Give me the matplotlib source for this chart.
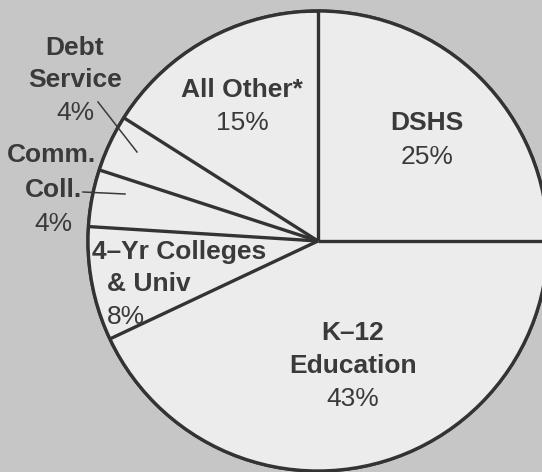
import numpy as np
import matplotlib.pyplot as plt
from matplotlib.patches import Circle

# budget shares (%), clockwise from 12 o'clock
labels = ['DSHS', 'K\u201312\nEducation', '4\u2013Yr Colleges\n& Univ', 'Comm.\nColl.', 'Debt\nService', 'All Other*']
shares = [25, 43, 8, 4, 4, 15]
pct_text = ['25%', '43%', '8%', '4%', '4%', '15%']

W, H = 542, 472
fig = plt.figure(figsize=(W / 100, H / 100), dpi=100)
fig.patch.set_facecolor('#c6c6c6')
ax = fig.add_axes([0, 0, 1, 1])
ax.set_facecolor('#c6c6c6')

cx, cy, r = 318, H - 241, 230
fill = '#ececec'
edge = '#333333'
lw = 2.4
# disk underneath so the rounding gap (shares sum to 99) is filled
ax.add_patch(Circle((cx, cy), r, facecolor=fill, edgecolor=edge, lw=lw, zorder=0))
wedges, _ = ax.pie([s / 100 for s in shares], normalize=False, startangle=90, counterclock=False,
                   center=(cx, cy), radius=r, colors=[fill] * len(shares),
                   wedgeprops=dict(linewidth=0))
# radial boundaries at the leading edge of each slice
for w in wedges:
    a = np.deg2rad(w.theta2)
    ax.plot([cx, cx + r * np.cos(a)], [cy, cy + r * np.sin(a)], color=edge, lw=lw,
            solid_capstyle='butt', zorder=3)
ax.add_patch(Circle((cx, cy), r, facecolor='none', edgecolor=edge, lw=lw, zorder=3))
ax.set_xlim(0, W)
ax.set_ylim(0, H)
ax.set_aspect('equal')
ax.axis('off')

ink = '#3a3a3a'
fs = 19
font = ['Liberation Sans', 'DejaVu Sans']

def lab(x, y, s, bold=True, ha='center'):
    ax.text(x, H - y, s, ha=ha, va='center', fontsize=fs, color=ink,
            fontweight='bold' if bold else 'normal', family=font, zorder=5)

# DSHS
lab(427, 123, 'DSHS')
lab(427, 157, pct_text[0], bold=False)
# K-12
lab(353, 333, 'K\u201312')
lab(353, 366, 'Education')
lab(353, 399, pct_text[1], bold=False)
# 4-yr
lab(92, 252, '4\u2013Yr Colleges', ha='left')
lab(107, 284, '& Univ', ha='left')
lab(107, 317, pct_text[2], bold=False, ha='left')
# Comm. Coll.
lab(51, 155, 'Comm.')
lab(54, 190, 'Coll.')
lab(53, 224, pct_text[3], bold=False)
# Debt service
lab(75, 48, 'Debt')
lab(75, 80, 'Service')
lab(75, 113, pct_text[4], bold=False)
# All other
lab(242, 90, 'All Other*')
lab(242, 123, pct_text[5], bold=False)

# leader lines
ax.plot([98, 137], [H - 102, H - 152], color=ink, lw=1.1, zorder=4)
ax.plot([83, 125], [H - 192, H - 194], color=ink, lw=1.1, zorder=4)

fig.savefig('out.png', dpi=100, facecolor=fig.get_facecolor())
